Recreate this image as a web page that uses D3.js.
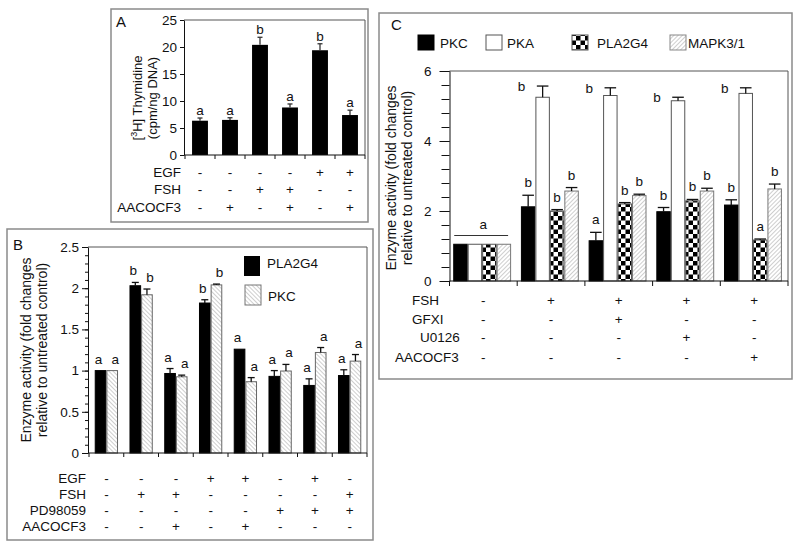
<!DOCTYPE html>
<html><head><meta charset="utf-8">
<script src="https://cdn.jsdelivr.net/npm/d3@7"></script>
<style>body{margin:0;background:#fff} text{font-family:"Liberation Sans",Arial,Helvetica,sans-serif}</style>
</head><body><svg id="c" width="800" height="550"></svg>
<script>
// ---------- Panel A data ----------
const aValues = [6.35, 6.5, 20.4, 8.8, 19.4, 7.4];
const aErrors = [0.5, 0.4, 1.4, 0.65, 1.2, 0.9];
const aLetters = ["a","a","b","a","b","a"];
const aTicks = [0,5,10,15,20,25];
const aRowLabels = ["EGF","FSH","AACOCF3"];
const aRows = [["-","-","-","-","+","+"],["-","-","+","+","-","-"],["-","+","-","+","-","+"]];

// ---------- Panel B data ----------
const bSeries = ["PLA2G4","PKC"];
const bPLA2G4 = [1.0, 2.03, 0.965, 1.82, 1.26, 0.93, 0.82, 0.94];
const bPLA2G4Err = [0, 0.04, 0.06, 0.04, 0, 0.07, 0.08, 0.07];
const bPKC = [1.0, 1.92, 0.925, 2.04, 0.865, 0.995, 1.22, 1.115];
const bPKCErr = [0, 0.07, 0.02, 0.01, 0.05, 0.08, 0.06, 0.08];
const bLettersPLA2G4 = ["a","b","a","b","a","a","a","a"];
const bLettersPKC = ["a","b","a","b","a","a","a","a"];
const bTicks = [0,0.5,1,1.5,2,2.5];
const bRowLabels = ["EGF","FSH","PD98059","AACOCF3"];
const bRows = [["-","-","-","+","+","-","+","-"],["-","+","+","-","-","-","-","+"],["-","-","-","-","-","+","+","+"],["-","-","+","-","+","-","-","-"]];

// ---------- Panel C data ----------
const cSeries = ["PKC","PKA","PLA2G4","MAPK3/1"];
const cPKC = [1.05, 2.12, 1.15, 1.98, 2.17];
const cPKCErr = [0, 0.33, 0.24, 0.12, 0.15];
const cPKA = [1.05, 5.25, 5.3, 5.15, 5.36];
const cPKAErr = [0, 0.32, 0.22, 0.1, 0.16];
const cPLA2G4 = [1.05, 2.0, 2.2, 2.29, 1.17];
const cPLA2G4Err = [0, 0.04, 0.04, 0.04, 0.03];
const cMAPK = [1.05, 2.57, 2.44, 2.57, 2.63];
const cMAPKErr = [0, 0.1, 0.04, 0.08, 0.14];
const cLetters = [["","","",""],["b","b","b","b"],["a","b","b","b"],["b","b","b","b"],["b","b","a","b"]];
const cGroupLetter = "a";
const cTicks = [0,2,4,6];
const cRowLabels = ["FSH","GFXI","U0126","AACOCF3"];
const cRows = [["-","+","+","+","+"],["-","-","+","-","-"],["-","-","-","+","-"],["-","-","-","-","+"]];

// ---------- drawing ----------
const svg = d3.select("#c");
svg.append("rect").attr("width",800).attr("height",550).attr("fill","#fff");
const FS = 13.5;
const defs = svg.append("defs");
function hatchPat(id, ang){
  const p = defs.append("pattern").attr("id",id).attr("patternUnits","userSpaceOnUse")
    .attr("width",3).attr("height",10).attr("patternTransform",`rotate(${ang})`);
  p.append("rect").attr("width",3).attr("height",10).attr("fill","#fff");
  p.append("line").attr("x1",0.5).attr("x2",0.5).attr("y1",0).attr("y2",10).attr("stroke","#c2c2c2").attr("stroke-width",0.8);
}
hatchPat("hatchB",-45); hatchPat("hatchC",45);
const ck = defs.append("pattern").attr("id","checker").attr("patternUnits","userSpaceOnUse").attr("width",9).attr("height",9);
ck.append("rect").attr("width",9).attr("height",9).attr("fill","#fff");
ck.append("rect").attr("width",4.5).attr("height",4.5).attr("fill","#000");
ck.append("rect").attr("x",4.5).attr("y",4.5).attr("width",4.5).attr("height",4.5).attr("fill","#000");

function box(x0,y0,x1,y1){
  svg.append("rect").attr("x",x0).attr("y",y0).attr("width",x1-x0).attr("height",y1-y0)
    .attr("fill","none").attr("stroke","#8a8a8a").attr("stroke-width",1.5);
}
function txt(x,y,s,anchor,size){
  return svg.append("text").attr("x",x).attr("y",y).attr("text-anchor",anchor||"start")
    .attr("font-size",size||FS).attr("fill","#111").text(s);
}
function styleAxis(g){
  g.selectAll("text").attr("font-family","'Liberation Sans',Arial,sans-serif").attr("font-size",FS).attr("fill","#111");
  g.selectAll("line,path").attr("stroke","#111");
}
function frame(x0,y0,x1,y1){
  svg.append("path").attr("d",`M${x0},${y0}H${x1}V${y1}`).attr("fill","none").attr("stroke","#555").attr("stroke-width",1);
}
function xTicks(x, n, y0, len){
  const b = d3.range(n+1).map(i => x.range()[0] + i*x.step());
  svg.append("g").selectAll("line").data(b).join("line")
    .attr("x1",d=>d).attr("x2",d=>d).attr("y1",y0).attr("y2",y0+len).attr("stroke","#111");
}
function rows(x, labels, data, centers, labelX, anchor){
  labels.forEach((l,r)=>{
    const lx = Array.isArray(labelX) ? labelX[r] : labelX;
    txt(lx, centers[r]+4.8, l, anchor);
    data[r].forEach((s,i)=>{
      txt(x(i)+x.bandwidth()/2, centers[r]+4.8, s, "middle");
    });
  });
}
function errBar(cx, yv, ye, cap, col){
  const g = svg.append("g").attr("stroke",col||"#111").attr("stroke-width",1.3);
  g.append("line").attr("x1",cx).attr("x2",cx).attr("y1",yv).attr("y2",ye);
  g.append("line").attr("x1",cx-cap/2).attr("x2",cx+cap/2).attr("y1",ye).attr("y2",ye);
}
function yLabel(cy, lines, size){
  lines.forEach((l,i)=>{
    const t = svg.append("text").attr("transform",`translate(${l.x},${cy}) rotate(-90)`)
      .attr("text-anchor","middle").attr("font-size",size||FS).attr("fill","#111");
    if (l.parts) l.parts.forEach(p=>{
      const ts = t.append("tspan").text(p.t);
      if (p.sup) ts.attr("font-size",9).attr("dy",-5);
      if (p.after) ts.attr("dy",5);
    }); else t.text(l.t);
  });
}

// ===== Panel A =====
box(111,9,368,222);
const aX = d3.scaleBand().domain(d3.range(aValues.length)).range([185,365]).paddingInner(0.47).paddingOuter(0.235);
const aY = d3.scaleLinear().domain([0,25]).range([155,20]);
frame(184,20,365,155);
svg.append("g").selectAll("rect").data(aValues).join("rect")
  .attr("x",(d,i)=>aX(i)).attr("width",aX.bandwidth()).attr("y",d=>aY(d)).attr("height",d=>aY(0)-aY(d)).attr("fill","#000");
aValues.forEach((v,i)=>{
  const cx = aX(i)+aX.bandwidth()/2;
  errBar(cx, aY(v), aY(v+aErrors[i]), 5, "#333");
  txt(cx, aY(v+aErrors[i])-3, aLetters[i], "middle");
});
const gA = svg.append("g").attr("transform","translate(184,0)")
  .call(d3.axisLeft(aY).tickValues(aTicks).tickSize(4).tickSizeOuter(0).tickPadding(3).tickFormat(d=>d));
styleAxis(gA);
svg.append("line").attr("x1",184).attr("x2",365).attr("y1",155).attr("y2",155).attr("stroke","#111");
xTicks(aX, aValues.length, 155, 4);
rows(aX, aRowLabels, aRows, [172,189.5,207], 181, "end");
txt(116,27,"A","start",15);
yLabel(98, [{x:142, parts:[{t:"["},{t:"3",sup:true},{t:"H] Thymidine",after:true}]},{x:157,t:"(cpm/ng DNA)"}], 13);

// ===== Panel B =====
box(7,229,373,540);
const bX = d3.scaleBand().domain(d3.range(bPLA2G4.length)).range([89,367]);
const bbw = bX.bandwidth();
const bSub = d3.scaleBand().domain(bSeries).range([bbw*0.165, bbw*0.835]);
const bY = d3.scaleLinear().domain([0,2.5]).range([453,247]);
frame(88,247,367,453);
const bData = [
  {s:"PLA2G4", v:bPLA2G4, e:bPLA2G4Err, l:bLettersPLA2G4, fill:"#000", stroke:"#000", off:-2},
  {s:"PKC", v:bPKC, e:bPKCErr, l:bLettersPKC, fill:"url(#hatchB)", stroke:"#666", off:3}
];
bData.forEach(sr=>{
  svg.append("g").selectAll("rect").data(sr.v).join("rect")
    .attr("x",(d,i)=>bX(i)+bSub(sr.s)+0.5).attr("width",bSub.bandwidth()-1)
    .attr("y",d=>bY(d)).attr("height",d=>bY(0)-bY(d))
    .attr("fill",sr.fill).attr("stroke",sr.stroke).attr("stroke-width",1);
  sr.v.forEach((v,i)=>{
    const cx = bX(i)+bSub(sr.s)+bSub.bandwidth()/2;
    if (sr.e[i]>0) errBar(cx, bY(v), bY(v+sr.e[i]), 7);
    txt(cx+sr.off, bY(v+sr.e[i])-7, sr.l[i], "middle");
  });
});
const gB = svg.append("g").attr("transform","translate(88,0)")
  .call(d3.axisLeft(bY).tickValues(bTicks).tickSize(6).tickSizeOuter(0).tickPadding(3).tickFormat(d=>d));
styleAxis(gB);
svg.append("g").attr("transform","translate(88,0)")
  .call(d3.axisLeft(bY).tickValues(d3.range(0,25).map(d=>d/10)).tickSize(3).tickFormat("")).call(styleAxis).select(".domain").remove();
svg.append("line").attr("x1",88).attr("x2",367).attr("y1",453).attr("y2",453).attr("stroke","#111");
xTicks(bX, bPLA2G4.length, 453, 4);
rows(bX, bRowLabels, bRows, [478,494,510,526], 86, "end");
txt(13,250,"B","start",15);
yLabel(350, [{x:31,t:"Enzyme activity (fold changes"},{x:47,t:"relative to untreated control)"}], 14);
svg.append("rect").attr("x",244).attr("y",256).attr("width",16).attr("height",20).attr("fill","#000");
txt(267,268,bSeries[0],"start");
svg.append("rect").attr("x",245).attr("y",285).attr("width",16).attr("height",20).attr("fill","url(#hatchB)").attr("stroke","#777");
txt(268,301,bSeries[1],"start");

// ===== Panel C =====
box(379,13,792,379);
const cX = d3.scaleBand().domain(d3.range(cPKC.length)).range([449.5,788]);
const cbw = cX.bandwidth();
const cSub = d3.scaleBand().domain(cSeries).range([cbw*0.055, cbw*0.91]);
const cY = d3.scaleLinear().domain([0,6]).range([281,71]);
frame(449.5,71,788,281);
const cData = [
  {s:"PKC", v:cPKC, e:cPKCErr, fill:"#000", stroke:"#000"},
  {s:"PKA", v:cPKA, e:cPKAErr, fill:"#fff", stroke:"#555"},
  {s:"PLA2G4", v:cPLA2G4, e:cPLA2G4Err, fill:"url(#checker)", stroke:"#555"},
  {s:"MAPK3/1", v:cMAPK, e:cMAPKErr, fill:"url(#hatchC)", stroke:"#777"}
];
cData.forEach((sr,si)=>{
  svg.append("g").selectAll("rect").data(sr.v).join("rect")
    .attr("x",(d,i)=>cX(i)+cSub(sr.s)+0.5).attr("width",cSub.bandwidth()-1)
    .attr("y",d=>cY(d)).attr("height",d=>cY(0)-cY(d))
    .attr("fill",sr.fill).attr("stroke",sr.stroke).attr("stroke-width",1);
  sr.v.forEach((v,i)=>{
    const cx = cX(i)+cSub(sr.s)+cSub.bandwidth()/2;
    if (sr.e[i]>0) errBar(cx, cY(v), cY(v+sr.e[i]), cSub.bandwidth()*0.8);
    const lt = cLetters[i][si];
    if (lt) {
      if (sr.s==="PKA") txt(cx-21, cY(v+sr.e[i])+5, lt, "middle");
      else txt(cx, cY(v+sr.e[i])-8, lt, "middle");
    }
  });
});
// group 1 bracket
const g1y = cY(cPKC[0]+0.25);
svg.append("line").attr("x1",cX(0)+cSub("PKC")+1).attr("x2",cX(0)+cSub("MAPK3/1")+cSub.bandwidth()-3)
  .attr("y1",g1y).attr("y2",g1y).attr("stroke","#333");
txt(cX(0)+cbw/2, g1y-7, cGroupLetter, "middle");
const gC = svg.append("g").attr("transform","translate(449.5,0)")
  .call(d3.axisLeft(cY).tickValues(cTicks).tickSize(10).tickSizeOuter(0).tickPadding(8).tickFormat(d=>d));
styleAxis(gC);
svg.append("g").attr("transform","translate(449.5,0)")
  .call(d3.axisLeft(cY).tickValues(d3.range(0,16).map(d=>d*0.4)).tickSize(8).tickFormat("")).call(styleAxis).select(".domain").remove();
svg.append("line").attr("x1",449.5).attr("x2",788).attr("y1",281).attr("y2",281).attr("stroke","#111");
xTicks(cX, cPKC.length, 281, 5);
rows(cX, cRowLabels, cRows, [300,319,337.5,357.5], [412,412,420,395], "start");
txt(391,30,"C","start",15);
yLabel(178, [{x:396,t:"Enzyme activity (fold changes"},{x:412,t:"relative to untreated control)"}], 14);
// legend C
const cLeg = [{x:418,tx:440,fill:"#000",stroke:"#000"},{x:486,tx:507,fill:"#fff",stroke:"#555"},{x:572,tx:597,fill:"url(#checker)",stroke:"#555"},{x:670,tx:688,fill:"url(#hatchC)",stroke:"#888"}];
cLeg.forEach((l,i)=>{
  svg.append("rect").attr("x",l.x).attr("y",35).attr("width",16).attr("height",15).attr("fill",l.fill).attr("stroke",l.stroke);
  txt(l.tx,47.5,cSeries[i],"start");
});
</script></body></html>
